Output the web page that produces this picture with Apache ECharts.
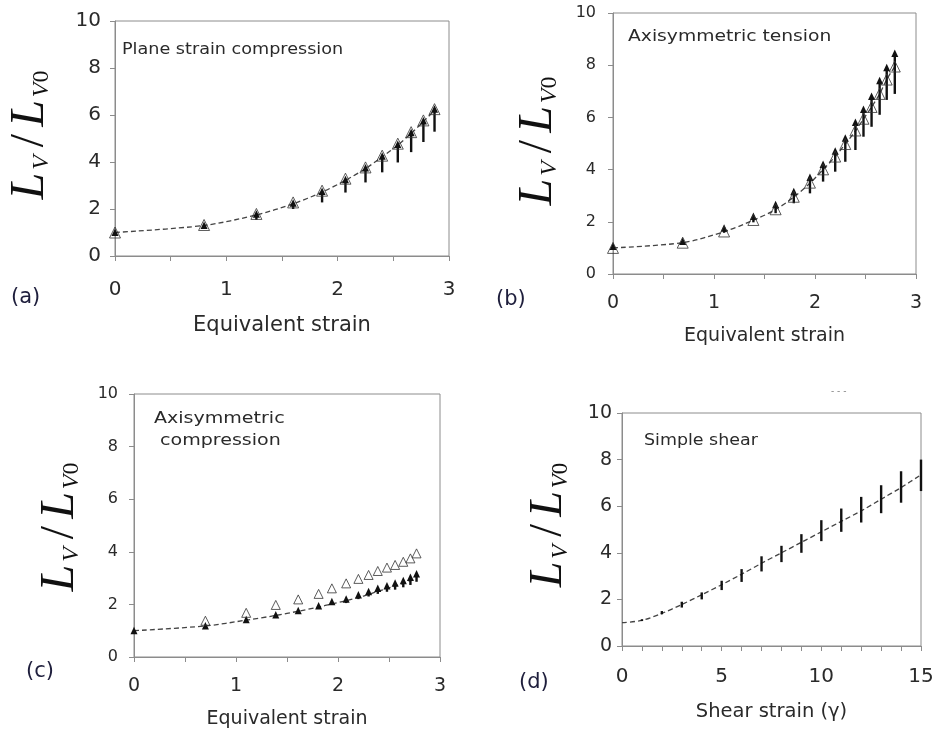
<!DOCTYPE html>
<html>
<head>
<meta charset="utf-8">
<script src="https://cdn.jsdelivr.net/npm/echarts@6/dist/echarts.min.js"></script>
<style>
html,body{margin:0;padding:0;background:#fff;}
#chart{width:938px;height:731px;}
</style>
</head>
<body>
<div id="chart"></div>
<script>
// ---------- DATA ----------
// (a) Plane strain compression
const xA   = [0, 0.8, 1.27, 1.6, 1.86, 2.07, 2.25, 2.4, 2.54, 2.66, 2.77, 2.87];
const triA = [1.0, 1.32, 1.79, 2.28, 2.78, 3.29, 3.77, 4.27, 4.78, 5.27, 5.77, 6.25];
const hiA  = [1.0, 1.3, 1.78, 2.25, 2.75, 3.25, 3.75, 4.25, 4.75, 5.25, 5.75, 6.25];
const loA  = [1.0, 1.2, 1.54, 2.0, 2.28, 2.7, 3.13, 3.56, 3.98, 4.42, 4.85, 5.29];
const fitA = [1.0, 1.3, 1.75, 2.22, 2.72, 3.22, 3.72, 4.22, 4.72, 5.22, 5.72, 6.2];

// (b) Axisymmetric tension
const xB   = [0, 0.69, 1.1, 1.39, 1.61, 1.79, 1.95, 2.08, 2.2, 2.3, 2.4, 2.48, 2.56, 2.64, 2.71, 2.79];
const triB = [1.0, 1.2, 1.63, 2.07, 2.48, 2.96, 3.5, 4.01, 4.5, 4.98, 5.5, 5.95, 6.4, 6.9, 7.45, 7.95];
const hiB  = [1.05, 1.25, 1.75, 2.2, 2.65, 3.15, 3.7, 4.2, 4.7, 5.2, 5.8, 6.3, 6.8, 7.4, 7.9, 8.45];
const loB  = [0.95, 1.15, 1.58, 1.98, 2.33, 2.71, 3.09, 3.54, 3.92, 4.3, 4.75, 5.26, 5.64, 6.1, 6.67, 6.9];
const fitB = [1.0, 1.2, 1.62, 2.06, 2.47, 2.95, 3.48, 4.0, 4.5, 4.98, 5.48, 5.94, 6.4, 6.9, 7.45, 7.95];

// (c) Axisymmetric compression
const xC   = [0, 0.7, 1.1, 1.39, 1.61, 1.81, 1.94, 2.08, 2.2, 2.3, 2.39, 2.48, 2.56, 2.64, 2.71, 2.77];
const triC = [null, 1.38, 1.68, 1.98, 2.19, 2.4, 2.61, 2.8, 2.97, 3.12, 3.27, 3.4, 3.5, 3.62, 3.75, 3.94];
const hiC  = [1.0, 1.18, 1.42, 1.6, 1.76, 1.94, 2.1, 2.2, 2.36, 2.48, 2.6, 2.7, 2.8, 2.9, 3.02, 3.16];
const loC  = [1.0, 1.12, 1.33, 1.52, 1.68, 1.84, 1.98, 2.05, 2.2, 2.3, 2.4, 2.48, 2.56, 2.65, 2.74, 2.86];
const fitC = [1.0, 1.18, 1.4, 1.58, 1.74, 1.9, 2.02, 2.14, 2.26, 2.38, 2.5, 2.6, 2.7, 2.8, 2.9, 3.0];

// (d) Simple shear
const xD   = [0, 1, 2, 3, 4, 5, 6, 7, 8, 9, 10, 11, 12, 13, 14, 15];
const hiD  = [1.0, 1.15, 1.5, 1.9, 2.3, 2.8, 3.3, 3.85, 4.3, 4.8, 5.4, 5.9, 6.4, 6.9, 7.5, 8.0];
const loD  = [1.0, 1.07, 1.36, 1.65, 2.0, 2.4, 2.75, 3.2, 3.6, 4.0, 4.5, 4.9, 5.3, 5.7, 6.15, 6.65];
const fitD = [1.0, 1.1, 1.4, 1.78, 2.2, 2.63, 3.08, 3.55, 4.0, 4.45, 4.9, 5.35, 5.8, 6.3, 6.8, 7.35];

const yTicks = [0, 2, 4, 6, 8, 10];
const xTicksStrain = [0, 1, 2, 3];
const xTicksShear = [0, 5, 10, 15];

// ---------- CHART ----------
const chart = echarts.init(document.getElementById('chart'));
const SANS = '"DejaVu Sans", Verdana, sans-serif';
const SERIF = '"Liberation Serif", "Times New Roman", serif';
const TXT = '#2a2a2a';
const AX = '#8c8c8c';

const zip = (xs, ys) => xs.map((x, i) => [x, ys[i]]);
const zip3 = (xs, a, b) => xs.map((x, i) => [x, a[i], b[i]]);

const panels = [
  {grid:{left:115, right:489, top:21, bottom:475}, xMax:3, xInt:0.5, xLabels:xTicksStrain, yFont:20, xFont:20, xMargin:24, name:'Equivalent strain', nameFont:21, nameGap:59, yMargin:14},
  {grid:{left:613, right:22, top:13, bottom:457}, xMax:3, xInt:0.5, xLabels:xTicksStrain, yFont:16, xFont:19, xMargin:20, name:'Equivalent strain', nameFont:19, nameGap:53, yMargin:17},
  {grid:{left:134, right:498, top:394, bottom:74}, xMax:3, xInt:0.5, xLabels:xTicksStrain, yFont:16, xFont:19, xMargin:20, name:'Equivalent strain', nameFont:19, nameGap:53, yMargin:16},
  {grid:{left:622, right:17, top:413, bottom:85}, xMax:15, xInt:1, xLabels:xTicksShear, yFont:19, xFont:20, xMargin:21, name:'Shear strain (\u03b3)', nameFont:19.5, nameGap:56, yMargin:10}
];

const grids = panels.map(p => Object.assign({show:true, borderColor:AX, borderWidth:1, backgroundColor:'transparent'}, p.grid));
const xAxes = panels.map((p, i) => ({
  type:'value', gridIndex:i, min:0, max:p.xMax, interval:p.xInt,
  axisLine:{show:true, lineStyle:{color:AX, width:1}},
  axisTick:{show:true, inside:false, length:5, lineStyle:{color:AX}},
  splitLine:{show:false},
  axisLabel:{fontFamily:SANS, fontSize:p.xFont, color:TXT, margin:p.xMargin,
    formatter: v => p.xLabels.indexOf(v) >= 0 ? String(v) : ''},
  name:p.name, nameLocation:'middle', nameGap:p.nameGap,
  nameTextStyle:{fontFamily:SANS, fontSize:p.nameFont, color:TXT}
}));
const yAxes = panels.map((p, i) => ({
  type:'value', gridIndex:i, min:0, max:10, interval:2,
  axisLine:{show:true, lineStyle:{color:AX, width:1}},
  axisTick:{show:true, inside:false, length:5, lineStyle:{color:AX}},
  splitLine:{show:false},
  axisLabel:{fontFamily:SANS, fontSize:p.yFont, color:TXT, margin:p.yMargin,
    formatter: v => yTicks.indexOf(v) >= 0 ? String(v) : ''}
}));

function stemRenderer(head) {
  return function (params, api) {
    const x = api.value(0), lo = api.value(1), hi = api.value(2);
    const p1 = api.coord([x, lo]);
    const p2 = api.coord([x, hi]);
    const children = [{
      type:'line',
      shape:{x1:p1[0], y1:p1[1], x2:p2[0], y2:p2[1]},
      style:{stroke:'#111', lineWidth:2.4}
    }];
    if (head) {
      children.push({
        type:'polygon',
        shape:{points:[[p2[0], p2[1] - 4], [p2[0] - 3.5, p2[1] + 3.5], [p2[0] + 3.5, p2[1] + 3.5]]},
        style:{fill:'#111'}
      });
    }
    return {type:'group', children};
  };
}

function fitLine(i, xs, ys) {
  return {type:'line', xAxisIndex:i, yAxisIndex:i, data:zip(xs, ys), smooth:0.3, symbol:'none',
    lineStyle:{color:'#444', width:1.3, type:[5, 3]}, z:3, silent:true};
}
function triangles(i, xs, ys, size) {
  return {type:'scatter', xAxisIndex:i, yAxisIndex:i, data:zip(xs, ys).filter(d => d[1] !== null),
    symbol:'triangle', symbolSize:size,
    itemStyle:{color:'rgba(255,255,255,0)', borderColor:'#333', borderWidth:1}, z:5, silent:true};
}
function stems(i, xs, lo, hi, head) {
  return {type:'custom', xAxisIndex:i, yAxisIndex:i, data:zip3(xs, lo, hi),
    renderItem:stemRenderer(head), encode:{x:0, y:[1, 2]}, z:4, silent:true};
}

const series = [
  fitLine(0, xA, fitA), stems(0, xA, loA, hiA, true), triangles(0, xA, triA, 11),
  fitLine(1, xB, fitB), stems(1, xB, loB, hiB, true), triangles(1, xB, triB, 11),
  fitLine(2, xC, fitC), stems(2, xC, loC, hiC, true), triangles(2, xC, triC, 9),
  fitLine(3, xD, fitD), stems(3, xD, loD, hiD, false)
];

function yName(cx, cy, size) {
  const s = Math.round(size * 0.5);
  const P = size - s;
  return {
    type:'text', x:cx, y:cy, rotation:Math.PI / 2,
    style:{
      text:'{L|L}{s|V}{d|/}{L|L}{s|V}{z|0}',
      align:'center', verticalAlign:'middle',
      rich:{
        L:{fontFamily:SERIF, fontStyle:'italic', fontSize:size, lineHeight:size, verticalAlign:'top', fill:'#111', padding:[0, 3, 0, 0]},
        d:{fontFamily:SERIF, fontSize:size, lineHeight:size, verticalAlign:'top', fill:'#111', padding:[0, 7, 0, 8]},
        s:{fontFamily:SERIF, fontStyle:'italic', fontSize:s, lineHeight:s, verticalAlign:'bottom', padding:[P, 0, 0, 0], fill:'#111'},
        z:{fontFamily:SERIF, fontSize:s, lineHeight:s, verticalAlign:'bottom', padding:[P, 0, 0, 0], fill:'#111'}
      }
    }
  };
}
function note(x, y, text, size, sx) {
  return {type:'text', x:x, y:y, scaleX:sx, originX:0, originY:0,
    style:{text:text, fontFamily:SANS, fontSize:size, fill:TXT, align:'left', verticalAlign:'middle', lineHeight:22}};
}
function tag(x, y, text) {
  return {type:'text', x:x, y:y, style:{text:text, fontFamily:SANS, fontSize:21, fill:'#1e1e3c', align:'left', verticalAlign:'middle'}};
}

chart.setOption({
  animation:false,
  backgroundColor:'#fff',
  grid:grids, xAxis:xAxes, yAxis:yAxes, series:series,
  graphic:[
    yName(30, 135, 48), yName(538, 141, 48), yName(60, 527, 48), yName(549, 525, 46),
    note(122, 50, 'Plane strain compression', 16, 1.1),
    note(628, 37, 'Axisymmetric tension', 16, 1.17),
    note(154, 430, 'Axisymmetric\n compression', 16, 1.19),
    note(644, 441, 'Simple shear', 16, 1.09),
    tag(11, 298, '(a)'), tag(496, 300, '(b)'), tag(26, 672, '(c)'), tag(519, 683, '(d)'),
    {type:'text', x:831, y:392, style:{text:'- - -', fontFamily:SANS, fontSize:9, fill:'#777', align:'left', verticalAlign:'middle'}}
  ]
});
</script>
</body>
</html>
